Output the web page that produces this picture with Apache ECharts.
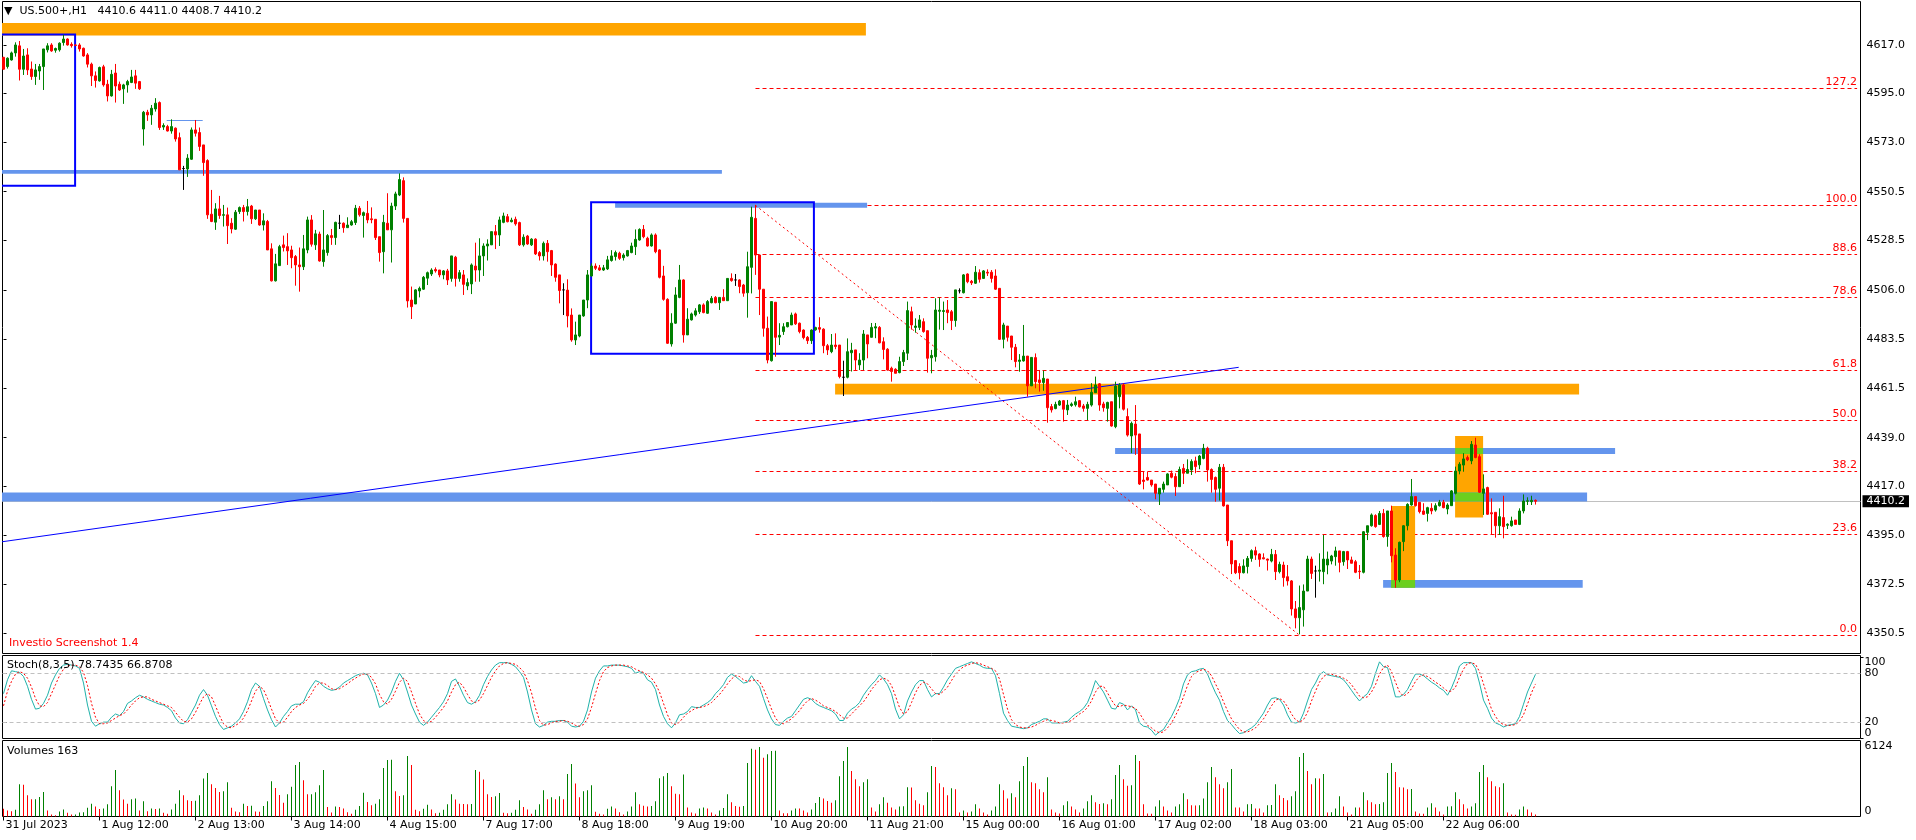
<!DOCTYPE html>
<html>
<head>
<meta charset="utf-8">
<script src="https://cdn.jsdelivr.net/npm/echarts@6/dist/echarts.min.js"></script>
<style>html,body{margin:0;padding:0;background:#fff}#c{width:1916px;height:840px}</style>
</head>
<body>
<div id="c"></div>
<script>
// ---------------- DATA ----------------
const symbolName = 'US.500+,H1';
const opens = [
4611.4,4607.2,4610.2,4613.4,4616.6,4606.0,4612.5,4606.1,4602.7,4605.2,
4607.2,4614.8,4617.0,4614.6,4614.8,4618.1,4619.7,4617.3,4617.0,4617.0,
4615.5,4612.5,4608.3,4603.0,4600.7,4607.1,4599.2,4593.9,4604.3,4599.2,
4597.1,4598.9,4600.0,4603.0,4600.4,4578.9,4586.5,4585.3,4588.0,4590.9,
4579.8,4580.0,4578.0,4579.3,4575.0,4561.0,4560.8,4565.2,4578.5,4577.3,
4571.7,4564.6,4540.3,4536.7,4542.7,4539.8,4540.0,4536.2,4533.5,4541.5,
4543.3,4541.5,4544.0,4538.2,4542.2,4535.4,4537.0,4524.6,4510.1,4517.0,
4526.4,4525.6,4524.1,4521.1,4517.3,4516.5,4524.1,4537.7,4526.4,4531.3,
4518.8,4522.9,4530.6,4529.7,4536.2,4536.2,4534.2,4535.4,4536.5,4543.0,
4539.7,4540.7,4538.2,4538.0,4530.1,4523.3,4536.2,4533.2,4544.0,4549.0,
4555.5,4538.4,4501.4,4499.6,4505.5,4506.3,4511.3,4513.2,4515.2,4515.0,
4512.8,4514.6,4511.2,4520.8,4511.2,4512.8,4507.8,4508.7,4516.8,4515.0,
4521.4,4525.9,4526.4,4532.4,4530.9,4536.6,4539.2,4536.9,4538.0,4536.5,
4526.4,4530.4,4526.4,4529.0,4522.9,4521.4,4527.1,4523.8,4517.7,4512.8,
4506.0,4505.9,4494.6,4483.3,4485.1,4494.2,4501.4,4512.3,4516.8,4516.0,
4515.0,4515.5,4519.3,4521.1,4522.6,4520.6,4521.4,4522.9,4525.6,4528.6,
4533.4,4529.4,4525.9,4530.9,4524.1,4512.3,4501.7,4481.5,4490.9,4502.6,
4510.5,4485.6,4492.4,4494.6,4496.1,4499.2,4495.4,4500.2,4502.6,4500.2,
4502.6,4501.1,4511.2,4510.5,4510.5,4508.2,4504.7,4516.2,4538.4,4521.8,
4506.3,4488.6,4473.9,4500.4,4484.6,4487.1,4489.3,4490.1,4495.1,4490.9,
4487.8,4484.5,4483.0,4487.9,4488.9,4488.2,4480.7,4478.0,4481.0,4481.0,
4466.4,4466.4,4477.5,4478.8,4472.0,4474.2,4485.6,4484.5,4488.7,4489.0,
4482.5,4479.1,4470.5,4470.0,4468.5,4473.5,4477.3,4496.1,4489.0,4489.0,
4491.6,4487.5,4475.2,4475.7,4496.3,4496.2,4496.9,4496.1,4492.1,4505.6,
4504.7,4513.2,4509.9,4509.0,4513.8,4511.2,4514.0,4514.0,4512.3,4506.7,
4483.6,4489.6,4485.1,4480.0,4473.6,4473.8,4476.0,4462.5,4475.3,4465.2,
4464.0,4465.6,4453.1,4452.2,4453.8,4455.8,4451.6,4453.6,4453.9,4455.8,
4453.4,4452.3,4453.8,4459.4,4463.4,4454.3,4452.3,4455.3,4444.0,4457.6,
4462.9,4448.6,4439.8,4445.2,4440.7,4419.8,4421.0,4419.8,4418.0,4413.5,
4415.6,4417.6,4422.9,4421.4,4416.8,4425.1,4422.9,4424.4,4428.5,4426.7,
4429.6,4434.2,4424.6,4421.0,4416.1,4425.6,4408.5,4392.3,4383.3,4380.6,
4377.8,4380.6,4384.3,4387.8,4386.3,4384.6,4384.0,4383.1,4386.1,4378.3,
4381.3,4376.0,4374.1,4361.4,4357.4,4361.0,4369.5,4384.0,4378.6,4378.5,
4378.3,4381.3,4383.1,4385.1,4387.7,4382.8,4387.4,4383.6,4382.8,4378.5,
4378.0,4396.1,4399.1,4403.7,4399.7,4404.7,4394.2,4405.8,4385.8,4374.5,
4391.9,4399.1,4408.5,4412.3,4409.7,4405.8,4404.7,4407.0,4406.2,4408.2,
4409.7,4406.7,4408.2,4413.8,4423.9,4426.6,4430.0,4428.5,4435.7,4430.4,
4413.8,4416.4,4405.0,4405.2,4399.1,4402.8,4399.3,4399.1,4401.7,4399.7,
4405.8,4410.2,4410.0,4410.6
];
const highs = [
4611.6,4611.4,4614.0,4618.2,4618.8,4615.2,4615.5,4609.5,4608.4,4608.4,
4615.2,4617.8,4617.8,4615.8,4618.2,4621.6,4620.0,4618.2,4617.3,4617.8,
4615.8,4613.3,4609.0,4605.0,4607.2,4608.0,4601.2,4605.7,4608.4,4600.4,
4599.4,4601.2,4605.7,4605.7,4600.7,4587.1,4587.6,4589.8,4592.9,4591.4,
4581.5,4580.8,4583.3,4579.6,4577.3,4562.2,4567.5,4579.6,4583.0,4579.6,
4571.7,4565.2,4551.3,4545.3,4548.6,4544.5,4543.3,4538.5,4542.2,4543.8,
4544.5,4547.2,4544.5,4542.2,4542.2,4540.7,4537.7,4527.1,4522.3,4526.4,
4530.6,4531.7,4526.0,4521.8,4525.2,4530.9,4539.2,4539.9,4533.2,4532.4,
4542.2,4531.3,4533.6,4536.9,4540.0,4536.6,4538.9,4537.7,4544.5,4544.0,
4541.5,4546.3,4543.4,4538.0,4530.1,4540.0,4549.8,4545.5,4550.5,4558.8,
4557.0,4538.4,4507.5,4506.3,4507.5,4512.3,4514.3,4515.8,4516.2,4515.0,
4515.0,4515.5,4521.4,4521.4,4515.0,4515.0,4511.2,4518.0,4527.4,4529.4,
4527.1,4528.9,4532.4,4535.4,4539.2,4541.0,4540.4,4538.7,4539.2,4536.9,
4531.2,4530.9,4529.4,4529.4,4523.6,4527.9,4528.6,4524.1,4518.0,4512.8,
4509.0,4510.8,4497.6,4491.6,4494.6,4501.4,4515.0,4518.0,4518.0,4517.3,
4517.3,4521.4,4524.0,4523.8,4523.3,4522.6,4524.1,4527.4,4533.4,4533.9,
4535.4,4530.1,4531.6,4531.6,4524.4,4516.9,4502.2,4495.4,4507.2,4517.3,
4510.8,4497.7,4495.7,4497.7,4499.6,4499.9,4501.4,4503.2,4503.2,4502.6,
4506.3,4511.2,4513.5,4513.2,4510.8,4508.7,4523.3,4543.7,4544.5,4521.8,
4506.3,4493.9,4500.7,4500.4,4490.9,4490.9,4491.2,4495.7,4495.7,4491.2,
4488.1,4485.1,4488.1,4489.3,4493.6,4488.6,4481.5,4486.0,4486.3,4481.0,
4473.9,4484.0,4482.0,4478.8,4477.3,4487.8,4485.6,4491.0,4491.0,4489.6,
4484.5,4479.6,4471.2,4470.5,4475.7,4478.8,4500.7,4498.4,4493.1,4494.6,
4493.1,4487.5,4478.8,4502.2,4502.6,4500.7,4501.4,4496.9,4506.0,4506.7,
4513.2,4513.5,4510.5,4516.8,4515.3,4515.0,4515.3,4515.0,4515.3,4506.7,
4491.1,4489.6,4485.1,4481.5,4476.9,4490.1,4476.0,4475.4,4477.2,4469.7,
4469.4,4465.6,4454.3,4455.3,4456.1,4456.1,4456.1,4455.0,4457.6,4456.1,
4454.3,4455.3,4463.7,4466.7,4463.7,4455.3,4455.3,4455.3,4464.4,4463.7,
4463.7,4452.3,4446.3,4453.8,4440.7,4423.6,4423.6,4419.8,4418.0,4416.1,
4419.1,4422.9,4424.1,4422.9,4425.9,4427.1,4429.2,4429.2,4430.4,4431.2,
4436.2,4434.9,4425.1,4421.4,4427.1,4427.1,4408.5,4392.3,4383.6,4382.1,
4383.9,4385.4,4388.4,4389.6,4386.6,4386.6,4384.2,4388.6,4388.1,4382.8,
4382.8,4381.3,4374.5,4365.0,4372.0,4372.5,4385.5,4385.1,4381.0,4386.6,
4394.9,4387.4,4385.9,4389.6,4387.7,4387.7,4387.7,4385.1,4383.6,4381.3,
4396.7,4399.1,4404.7,4404.3,4405.8,4406.7,4405.8,4408.2,4388.9,4391.9,
4399.4,4409.3,4420.3,4412.3,4409.7,4409.3,4407.7,4409.3,4409.3,4410.8,
4410.8,4409.3,4415.3,4425.9,4427.9,4432.0,4430.9,4437.5,4439.0,4431.5,
4422.4,4416.8,4411.5,4405.2,4407.0,4412.7,4400.2,4403.2,4401.7,4407.0,
4413.3,4412.0,4412.7,4411.0
];
const lows = [
4605.8,4606.3,4609.9,4611.7,4600.9,4603.4,4603.4,4601.2,4598.9,4601.2,
4596.6,4613.6,4613.9,4613.5,4614.0,4616.7,4616.7,4615.8,4616.6,4614.0,
4611.7,4606.8,4598.4,4597.7,4600.4,4598.1,4591.4,4593.6,4590.9,4596.2,
4590.3,4595.4,4599.7,4597.1,4596.6,4571.4,4582.6,4580.8,4586.8,4578.5,
4578.5,4577.8,4576.8,4573.2,4560.4,4551.3,4557.2,4564.9,4575.5,4569.0,
4557.7,4538.2,4536.7,4533.2,4538.2,4534.7,4526.8,4531.6,4533.2,4540.4,
4537.0,4539.7,4535.9,4537.7,4535.1,4532.9,4524.1,4509.8,4509.8,4517.0,
4523.4,4517.3,4515.8,4507.9,4505.2,4515.0,4522.6,4525.6,4524.1,4518.8,
4516.5,4521.5,4526.4,4526.4,4533.6,4531.9,4534.2,4535.1,4535.4,4539.2,
4529.7,4536.2,4536.2,4528.6,4518.8,4513.5,4533.2,4518.4,4542.2,4548.5,
4536.5,4498.0,4492.8,4499.6,4502.6,4506.0,4508.2,4512.3,4513.8,4511.7,
4510.8,4508.2,4509.7,4507.5,4509.7,4503.7,4505.9,4504.1,4509.7,4509.7,
4512.3,4519.3,4526.4,4524.5,4525.9,4536.2,4536.6,4536.6,4535.1,4525.9,
4525.6,4526.4,4525.9,4521.8,4519.3,4519.3,4518.8,4512.3,4509.7,4499.9,
4494.6,4489.0,4482.5,4481.0,4484.5,4493.8,4497.7,4512.0,4515.0,4514.6,
4514.6,4515.0,4518.8,4519.3,4519.6,4519.3,4521.1,4522.6,4521.8,4528.3,
4529.4,4525.6,4525.6,4522.6,4511.2,4501.1,4481.5,4480.3,4490.6,4502.2,
4482.1,4485.6,4492.1,4493.9,4495.1,4495.4,4495.1,4499.9,4499.9,4496.9,
4501.1,4501.1,4509.7,4507.8,4504.5,4502.9,4493.4,4504.4,4512.8,4494.6,
4484.8,4472.7,4473.5,4475.7,4481.0,4485.6,4489.0,4490.1,4490.1,4486.3,
4483.6,4481.5,4481.5,4487.5,4486.6,4477.3,4476.5,4477.3,4479.1,4465.9,
4457.9,4465.9,4469.0,4469.7,4469.7,4469.7,4475.0,4484.5,4484.1,4481.8,
4474.5,4469.4,4464.4,4468.2,4468.2,4471.5,4474.2,4488.0,4486.6,4487.8,
4486.6,4468.5,4468.2,4473.5,4488.0,4487.8,4490.9,4487.8,4489.3,4504.4,
4504.4,4509.0,4508.2,4508.7,4509.3,4511.2,4512.3,4509.3,4506.0,4483.3,
4479.5,4482.6,4474.2,4470.9,4468.9,4473.5,4457.6,4462.5,4461.4,4459.9,
4460.3,4445.8,4450.4,4451.9,4453.4,4446.3,4449.3,4453.0,4453.1,4452.7,
4450.8,4447.0,4453.1,4459.4,4451.2,4450.8,4446.3,4444.0,4443.3,4452.3,
4451.3,4439.5,4432.0,4431.2,4417.6,4415.6,4419.6,4416.8,4411.1,4408.5,
4414.1,4417.6,4420.6,4412.6,4416.8,4418.0,4422.9,4422.1,4422.9,4424.7,
4429.2,4419.1,4414.1,4410.0,4410.5,4407.8,4389.9,4377.2,4377.2,4374.8,
4377.5,4377.5,4382.8,4383.6,4380.5,4383.9,4378.8,4382.5,4374.5,4377.5,
4371.5,4372.0,4358.4,4352.6,4349.9,4353.4,4369.5,4375.0,4366.5,4373.8,
4372.6,4377.1,4381.6,4381.0,4378.0,4381.0,4379.5,4382.1,4377.6,4375.0,
4377.5,4392.6,4398.7,4398.2,4399.4,4393.7,4389.6,4382.5,4371.0,4373.5,
4387.6,4397.0,4408.2,4407.8,4404.7,4404.0,4401.0,4404.3,4405.5,4407.8,
4407.0,4404.3,4408.2,4413.3,4422.4,4423.6,4428.4,4427.0,4429.7,4414.0,
4404.0,4404.0,4394.9,4393.7,4394.9,4393.4,4397.6,4398.7,4399.7,4399.4,
4404.7,4408.5,4408.5,4408.7
];
const closes = [
4606.0,4611.0,4613.4,4617.0,4606.0,4612.0,4605.7,4602.7,4605.7,4607.2,
4615.2,4616.6,4614.3,4615.4,4617.8,4619.7,4617.0,4616.7,4616.8,4615.2,
4612.0,4608.3,4603.0,4600.9,4606.8,4598.9,4593.9,4603.7,4598.4,4596.6,
4598.9,4600.4,4602.5,4599.7,4597.1,4586.5,4585.3,4588.3,4590.6,4579.6,
4580.5,4578.0,4580.0,4574.4,4560.4,4561.0,4565.7,4578.5,4577.0,4571.0,
4563.7,4540.0,4537.0,4542.7,4539.7,4540.1,4535.1,4533.6,4541.2,4543.3,
4541.5,4543.7,4538.2,4542.2,4535.4,4537.3,4524.1,4510.1,4517.8,4525.6,
4525.2,4523.7,4520.6,4517.3,4516.5,4524.6,4537.7,4526.7,4531.4,4519.1,
4524.1,4530.6,4529.7,4536.6,4536.2,4534.2,4535.4,4536.9,4543.0,4540.0,
4541.0,4537.7,4537.8,4529.7,4522.9,4536.6,4533.2,4544.0,4549.5,4556.0,
4538.4,4501.0,4498.4,4506.0,4506.7,4511.7,4513.8,4515.0,4514.6,4512.8,
4514.6,4510.5,4521.4,4511.2,4513.8,4508.5,4509.3,4517.3,4515.0,4521.4,
4525.9,4526.8,4532.4,4530.9,4537.7,4539.5,4536.9,4537.6,4535.9,4526.4,
4529.9,4526.8,4529.0,4522.3,4521.4,4527.1,4523.3,4517.3,4511.7,4505.7,
4506.0,4494.2,4483.3,4485.6,4494.6,4501.4,4512.8,4516.8,4515.8,4515.0,
4516.0,4519.6,4521.4,4522.9,4520.3,4521.8,4523.8,4525.9,4528.9,4533.4,
4530.1,4525.9,4530.9,4523.3,4511.7,4501.7,4481.8,4490.9,4503.7,4510.5,
4485.6,4492.7,4495.1,4496.5,4499.2,4495.7,4500.7,4502.2,4500.2,4502.6,
4501.1,4511.2,4510.2,4510.5,4507.5,4504.5,4516.5,4538.9,4521.8,4506.3,
4488.6,4474.2,4500.7,4484.5,4485.4,4489.3,4491.2,4494.6,4490.6,4487.1,
4484.4,4483.0,4487.8,4488.9,4488.2,4480.7,4478.8,4481.0,4480.3,4466.7,
4466.4,4478.0,4478.6,4474.2,4474.2,4486.0,4481.5,4489.0,4489.3,4482.0,
4479.0,4469.7,4469.0,4468.2,4473.5,4477.6,4496.6,4490.1,4489.6,4492.4,
4487.1,4475.0,4476.3,4496.9,4496.8,4496.6,4495.7,4492.1,4506.0,4505.6,
4512.8,4509.7,4509.2,4514.0,4510.8,4514.6,4513.6,4511.2,4506.3,4483.6,
4490.1,4484.5,4480.0,4473.5,4474.2,4476.0,4462.5,4475.4,4464.4,4464.0,
4465.9,4452.6,4451.6,4454.1,4455.6,4451.9,4453.8,4454.3,4455.3,4453.0,
4452.3,4454.1,4459.6,4462.9,4453.8,4452.6,4455.0,4444.3,4462.4,4462.9,
4451.9,4440.2,4445.5,4440.2,4418.0,4419.2,4419.8,4417.6,4413.8,4416.1,
4418.0,4422.6,4421.1,4416.8,4424.6,4422.9,4424.6,4428.2,4425.9,4430.7,
4434.2,4424.4,4420.1,4415.6,4425.6,4408.1,4392.3,4381.8,4377.8,4377.8,
4380.9,4384.3,4387.8,4385.8,4383.9,4384.1,4383.5,4386.1,4378.3,4381.6,
4375.6,4374.1,4361.4,4357.4,4362.0,4369.5,4384.0,4377.5,4378.6,4379.0,
4384.0,4384.0,4385.4,4387.7,4382.5,4387.4,4383.6,4382.1,4378.0,4378.3,
4396.4,4399.1,4404.0,4398.7,4404.7,4394.2,4405.8,4385.5,4374.5,4391.6,
4399.1,4408.8,4412.3,4408.2,4405.5,4404.3,4407.3,4405.8,4408.2,4409.7,
4407.3,4408.5,4414.9,4423.9,4427.0,4429.4,4429.0,4436.0,4430.0,4414.3,
4415.8,4404.3,4404.5,4399.1,4403.2,4398.7,4399.8,4401.3,4399.7,4405.8,
4410.3,4410.4,4410.6,4410.2
];
const stochK = [
55,72,83,82,81,76,64,48,36,37, 43,53,68,78,86,90,91,90,89,86,
68,41,21,15,18,20,20,26,30,28, 33,43,46,50,53,51,48,46,44,42,
41,38,34,25,19,18,23,32,41,53, 60,53,40,27,17,11,13,15,19,24,
33,45,60,68,64,49,35,23,14,19, 27,33,40,42,42,45,56,64,71,69,
64,61,59,60,63,68,71,74,77,79, 80,78,68,55,38,41,47,57,70,80,
72,57,41,30,20,16,20,26,32,38, 45,55,70,73,64,53,44,42,45,53,
66,76,84,90,93,93,93,91,88,82, 75,57,35,18,14,16,20,21,21,22,
22,20,15,14,15,21,35,57,74,83, 89,89,90,90,90,89,88,86,80,82,
80,72,69,60,41,27,18,13,19,29, 30,33,39,38,38,41,44,48,55,60,
66,75,79,76,72,68,69,77,70,64, 49,35,24,17,16,21,25,27,34,41,
48,50,48,43,40,38,36,34,30,22, 22,31,36,39,44,53,60,66,71,78,
73,66,55,36,24,29,46,57,66,71, 71,60,51,55,55,63,72,79,86,88,
90,92,94,92,90,87,86,86,77,55, 31,22,15,14,13,12,13,17,19,21,
24,24,19,19,19,20,21,26,30,33, 37,44,56,71,64,57,47,37,36,44,
42,35,40,35,19,15,14,10,4,8, 11,19,27,37,49,67,78,82,83,85,
86,79,67,56,47,33,22,17,11,6, 7,10,13,17,24,31,41,49,50,48,
41,29,20,19,20,31,46,60,68,78, 82,78,77,76,75,72,66,59,52,46,
51,55,64,80,94,88,87,70,51,51, 54,60,70,79,79,77,73,69,66,62,
59,53,62,74,89,93,93,93,86,68, 47,37,25,19,17,14,16,17,18,27,
42,57,68,78.7435
];
const stochD = [
40,58,70,79,82,80,74,63,49,40, 39,44,55,66,77,85,89,90,90,88,
81,65,43,26,18,18,19,22,25,28, 30,35,41,46,50,51,51,48,46,44,
42,40,38,32,26,21,20,24,32,42, 51,55,51,40,28,18,14,13,16,19,
25,34,46,58,64,60,49,36,24,19, 20,26,33,38,41,43,48,55,64,68,
68,65,61,60,61,64,67,71,74,77, 79,79,75,67,54,45,42,48,58,69,
74,70,57,43,30,22,19,21,26,32, 38,46,57,66,69,63,54,46,44,47,
55,65,75,83,89,92,93,92,91,87, 82,71,56,37,22,16,17,19,21,21,
22,21,19,16,15,17,24,38,55,71, 82,87,89,90,90,90,89,88,85,83,
81,78,74,67,57,43,29,19,17,20, 26,31,34,37,38,39,41,44,49,54,
60,67,73,77,76,72,70,71,72,70, 61,49,36,25,19,18,21,24,29,34,
41,46,49,47,44,40,38,36,33,29, 25,25,30,35,40,45,52,60,66,72,
74,72,65,52,38,30,33,44,56,65, 69,67,61,55,54,58,63,71,79,84,
88,90,92,93,92,90,88,86,83,73, 54,36,23,17,14,13,13,14,16,19,
21,23,22,21,19,19,20,22,26,30, 33,38,46,57,64,64,56,47,40,39,
41,40,39,37,31,23,16,13,9,7, 8,13,19,28,38,51,65,76,81,83,
85,83,77,67,57,45,34,24,17,11, 8,8,10,13,18,24,32,40,47,49,
46,39,30,23,20,23,32,46,58,69, 76,79,79,77,76,74,71,66,59,52,
50,51,57,66,79,87,90,82,69,57, 52,55,61,70,76,78,76,73,69,66,
62,58,58,63,75,85,92,93,91,82, 67,51,36,27,20,17,16,16,17,21,
29,42,56,66.8708
];
const volumes = [
620,490,430,540,2600,2550,1710,1380,1400,1570, 1980,490,160,110,410,570,300,160,170,330,
350,700,1030,810,600,650,980,2440,3740,2110, 1360,1030,1380,1460,490,1220,430,650,600,650,
300,220,570,1030,2110,1710,1300,1250,1270,1710, 3060,3500,2600,2300,1980,2030,2760,700,410,350,
1030,840,860,400,380,840,1220,2850,2300,1730, 1110,1790,2390,4150,4390,2930,1790,1800,1950,2520,
3740,760,330,810,760,650,350,220,540,840, 1920,1170,900,1030,1380,3900,4550,4580,2030,1650,
1710,4880,4150,540,430,620,950,570,270,300, 540,980,1790,1360,1030,1000,980,1000,3740,3600,
2980,1790,1570,1630,1900,300,270,300,540,1300, 760,570,220,540,980,2110,1380,1550,1380,1630,
1380,3420,4230,2660,1550,2030,2110,2520,380,220, 160,620,810,650,350,160,410,810,1950,980,
870,810,840,1220,3090,3250,3500,2440,1840,1790, 3390,730,330,240,650,730,650,330,160,490,
680,1790,1140,840,790,840,4310,5450,5370,5610, 4740,5010,5280,5300,490,270,260,490,650,640,
490,330,570,1080,1570,1460,1250,1110,1300,3250, 4470,5610,3660,3010,2440,2760,3010,730,410,980,
1550,1110,730,570,810,830,2360,2340,1300,1030, 900,1950,4070,3980,2680,2360,1710,2280,2200,330,
490,330,410,980,650,330,160,490,810,2600, 2110,1460,1870,1550,2850,4070,4800,2760,2680,2200,
1950,3170,570,330,240,900,1220,810,570,330, 650,1220,1710,1140,1000,1060,980,1380,3340,4150,
3010,2470,2520,4960,4470,980,240,230,810,1300, 810,490,330,810,980,1870,1380,900,890,900,
1460,2760,3980,3170,2600,2280,2760,3820,730,720, 410,980,1000,650,640,330,900,920,2600,1710,
1490,1300,1630,2030,4800,5120,3660,2600,3090,3060, 3420,330,340,650,1630,810,330,160,730,720,
1950,1300,1140,980,1000,1140,3500,4310,3580,2360, 2340,2200,2220,410,240,230,730,1060,730,410,
160,810,830,1950,1380,980,650,810,1060,3580, 4150,3170,2850,2440,2360,2680,330,160,150,570,
810,570,330,163
];
// time-axis labels (bar index -> text)
const timeTickIdx = [0,24,48,72,96,120,144,168,192,216,240,264,288,312,336,360];
const timeTickText = ['31 Jul 2023','1 Aug 12:00','2 Aug 13:00','3 Aug 14:00','4 Aug 15:00','7 Aug 17:00',
  '8 Aug 18:00','9 Aug 19:00','10 Aug 20:00','11 Aug 21:00','15 Aug 00:00','16 Aug 01:00',
  '17 Aug 02:00','18 Aug 03:00','21 Aug 05:00','22 Aug 06:00'];
const priceTicks = [4350.5,4372.5,4395.0,4417.0,4439.0,4461.5,4483.5,4506.0,4528.5,4550.5,4573.0,4595.0,4617.0];
const stochLevels = [80,20];
const stochBounds = [0,100];
const volumeTicks = [0,6124];
// Fibonacci retracement (anchor bar indices / prices) and ratios
const fibRatios = [0,23.6,38.2,50,61.8,78.6,88.6,100,127.2];
const fibStart = [188, 4544.3];
const fibEnd = [324, 4349.5];
const fibRightIdx = 463.4;
// drawn objects: [barFrom, barTo, priceTop, priceBottom]
const orangeRects = [[-2,215.6,4626.9,4621.3],[207.9,393.9,4463.5,4458.6],[346.9,352.9,4408.1,4371.0],[362.9,369.9,4439.8,4402.8]];
const blueBands = [[-2,179.6,4560.3,4558.6],[152.9,215.9,4545.5,4543.2],[277.9,402.9,4434.3,4431.6],[-2,395.9,4414.2,4410.1],[344.9,394.8,4374.5,4371.0]];
const blueFrames = [[-2,17.9,4621.8,4553.2],[146.9,202.6,4545.7,4477.1]];
const thinLevel = [40.8,49.8,4582.9];
const trendLine = [[-0.9,4391.7],[308.8,4470.9]];

// ---------------- CHART ----------------
const GREEN = '#008000', RED = '#FF0000', CFB = '#6495ED', ORANGE = '#FFA500', LIME = '#6BCF1F';
const FONT = 'DejaVu Sans';
const N = opens.length;
const X_MIN = -0.25, X_MAX = 464.25;
const last = N - 1;
const headerText = '\u25BC  ' + symbolName + '   ' + [opens[last], highs[last], lows[last], closes[last]].map(v => v.toFixed(1)).join(' ');
const stochText = 'Stoch(8,3,5) ' + stochK[last].toFixed(4) + ' ' + stochD[last].toFixed(4);
const volText = 'Volumes ' + volumes[last];

const candleData = opens.map((o, i) => {
  const item = { value: [i, o, closes[i], lows[i], highs[i]] };
  if (o === closes[i]) item.itemStyle = { color: '#000', color0: '#000', borderColor: '#000', borderColor0: '#000' };
  return item;
});

function rectShape(api, r) {
  const p1 = api.coord([r[0], r[2]]), p2 = api.coord([r[1], r[3]]);
  return { x: Math.min(p1[0], p2[0]), y: Math.min(p1[1], p2[1]), width: Math.abs(p2[0] - p1[0]), height: Math.abs(p2[1] - p1[1]) };
}

function renderObjects(params, api) {
  const children = [];
  orangeRects.forEach(r => children.push({ type: 'rect', shape: rectShape(api, r), style: { fill: ORANGE } }));
  blueBands.forEach(r => children.push({ type: 'rect', shape: rectShape(api, r), style: { fill: CFB } }));
  orangeRects.forEach(o => blueBands.forEach(b => {
    const x1 = Math.max(o[0], b[0]), x2 = Math.min(o[1], b[1]);
    const top = Math.min(o[2], b[2]), bot = Math.max(o[3], b[3]);
    if (x1 < x2 && top > bot) children.push({ type: 'rect', shape: rectShape(api, [x1, x2, top, bot]), style: { fill: LIME } });
  }));
  blueFrames.forEach(r => children.push({ type: 'rect', shape: rectShape(api, r), style: { fill: null, stroke: '#0000FF', lineWidth: 2 } }));
  const a = api.coord([thinLevel[0], thinLevel[2]]), b = api.coord([thinLevel[1], thinLevel[2]]);
  children.push({ type: 'line', shape: { x1: a[0], y1: Math.round(a[1]) + 0.5, x2: b[0], y2: Math.round(b[1]) + 0.5 }, style: { stroke: CFB, lineWidth: 1 } });
  return { type: 'group', children };
}

function renderFib(params, api) {
  const price = api.value(1), ratio = api.value(2);
  const a = api.coord([fibStart[0], price]), b = api.coord([fibRightIdx, price]);
  const y = Math.round(a[1]) + 0.5;
  return { type: 'group', children: [
    { type: 'line', shape: { x1: a[0], y1: y, x2: b[0], y2: y }, style: { stroke: RED, lineWidth: 1, lineDash: [4, 3] } },
    { type: 'text', style: { text: ratio.toFixed(1), x: b[0], y: y - 0.5, align: 'right', verticalAlign: 'bottom', fill: RED, fontSize: 11, fontFamily: FONT } }
  ] };
}

const fibData = fibRatios.map(r => [fibStart[0], fibEnd[1] + (fibStart[1] - fibEnd[1]) * r / 100, r]);

const axisFont = { fontSize: 11, fontFamily: FONT, color: '#000' };
const hiddenX = gi => ({ type: 'value', gridIndex: gi, min: X_MIN, max: X_MAX, show: false, splitLine: { show: false } });
const STOCH_MIN = -0.1, STOCH_MAX = 101.8;

const chart = echarts.init(document.getElementById('c'));
chart.setOption({
  animation: false,
  backgroundColor: '#fff',
  title: [
    { text: headerText, left: 4, top: 6, padding: 0, textStyle: { fontSize: 11, fontFamily: FONT, fontWeight: 'normal', color: '#000' } },
    { text: 'Investio Screenshot 1.4', left: 9, top: 637.5, padding: 0, textStyle: { fontSize: 11, fontFamily: FONT, fontWeight: 'normal', color: RED } },
    { text: stochText, left: 7, top: 659.5, padding: 0, textStyle: { fontSize: 11, fontFamily: FONT, fontWeight: 'normal', color: '#000' } },
    { text: volText, left: 7, top: 746, padding: 0, textStyle: { fontSize: 11, fontFamily: FONT, fontWeight: 'normal', color: '#000' } }
  ],
  grid: [
    { left: 2.5, right: 55.5, top: 1.5, bottom: 186.5, show: true, borderColor: '#000', borderWidth: 1, backgroundColor: 'transparent' },
    { left: 2.5, right: 55.5, top: 655.5, bottom: 101.5, show: true, borderColor: '#000', borderWidth: 1, backgroundColor: 'transparent' },
    { left: 2.5, right: 55.5, top: 740.5, bottom: 23.5, show: true, borderColor: '#000', borderWidth: 1, backgroundColor: 'transparent' }
  ],
  xAxis: [
    hiddenX(0), hiddenX(1),
    { type: 'value', gridIndex: 2, min: X_MIN, max: X_MAX, position: 'bottom',
      axisLine: { show: false }, splitLine: { show: false },
      axisTick: { show: true, customValues: timeTickIdx, length: 4, lineStyle: { color: '#000' } },
      axisLabel: Object.assign({ customValues: timeTickIdx, formatter: v => timeTickText[timeTickIdx.indexOf(v)], align: 'left', margin: 3, padding: [0, 0, 0, 2], showMinLabel: true, showMaxLabel: true }, axisFont) }
  ],
  yAxis: [
    { type: 'value', gridIndex: 0, position: 'right', min: 4341.2, max: 4636.7,
      axisLine: { show: false }, splitLine: { show: false },
      axisTick: { show: true, customValues: priceTicks, length: 3, lineStyle: { color: '#000' } },
      axisLabel: Object.assign({ customValues: priceTicks, formatter: v => v.toFixed(1), margin: 6, showMinLabel: true, showMaxLabel: true }, axisFont) },
    { type: 'value', gridIndex: 1, position: 'right', min: STOCH_MIN, max: STOCH_MAX,
      axisLine: { show: false }, splitLine: { show: false },
      axisTick: { show: true, customValues: stochLevels, length: 3, lineStyle: { color: '#000' } },
      axisLabel: Object.assign({ customValues: stochLevels, formatter: v => String(v), margin: 4, showMinLabel: true, showMaxLabel: true }, axisFont) },
    { type: 'value', gridIndex: 2, position: 'right', min: 0, max: 6124,
      axisLine: { show: false }, splitLine: { show: false },
      axisTick: { show: true, customValues: volumeTicks, length: 3, lineStyle: { color: '#000' } },
      axisLabel: Object.assign({ customValues: volumeTicks, formatter: v => String(v), margin: 4, showMinLabel: true, showMaxLabel: true, verticalAlignMinLabel: 'bottom', verticalAlignMaxLabel: 'top' }, axisFont) },
    { type: 'value', gridIndex: 1, position: 'right', offset: 0, min: STOCH_MIN, max: STOCH_MAX,
      axisLine: { show: false }, splitLine: { show: false },
      axisTick: { show: true, customValues: stochBounds, length: 3, lineStyle: { color: '#000' } },
      axisLabel: Object.assign({ customValues: stochBounds, formatter: v => String(v), margin: 4, showMinLabel: true, showMaxLabel: true, verticalAlignMinLabel: 'bottom', verticalAlignMaxLabel: 'top' }, axisFont) }
  ],
  series: [
    { name: 'fib', type: 'custom', xAxisIndex: 0, yAxisIndex: 0, z: 1, silent: true, clip: true,
      data: fibData, renderItem: renderFib },
    { name: 'objects', type: 'custom', xAxisIndex: 0, yAxisIndex: 0, z: 2, silent: true, clip: true,
      data: [[0, closes[last]]], renderItem: renderObjects },
    { name: 'fibTrend', type: 'line', xAxisIndex: 0, yAxisIndex: 0, z: 3, silent: true, symbol: 'none',
      data: [fibStart, fibEnd], lineStyle: { color: RED, width: 1, type: [2, 3] } },
    { name: 'trend', type: 'line', xAxisIndex: 0, yAxisIndex: 0, z: 3, silent: true, symbol: 'none', clip: true,
      data: trendLine, lineStyle: { color: '#0000FF', width: 1 } },
    { name: 'price', type: 'candlestick', xAxisIndex: 0, yAxisIndex: 0, z: 5, barWidth: 2,
      encode: { x: 0, y: [1, 2, 3, 4] },
      data: candleData,
      itemStyle: { color: GREEN, color0: RED, borderColor: GREEN, borderColor0: RED, borderWidth: 1 },
      markLine: { silent: true, symbol: ['none', 'none'], z: 1,
        data: [{ yAxis: closes[last] }],
        lineStyle: { color: '#C0C0C0', type: 'solid', width: 1 },
        label: { position: 'end', distance: 2, formatter: closes[last].toFixed(1), backgroundColor: '#000', color: '#fff', padding: [1, 4, 0, 4], fontSize: 11, fontFamily: FONT } } },
    { name: 'K', type: 'line', xAxisIndex: 1, yAxisIndex: 1, symbol: 'none', silent: true,
      data: stochK.map((v, i) => [i, v]), lineStyle: { color: '#20B2AA', width: 1 },
      markLine: { silent: true, symbol: ['none', 'none'], data: stochLevels.map(v => ({ yAxis: v })),
        lineStyle: { color: '#C0C0C0', type: [4, 3], width: 1 }, label: { show: false } } },
    { name: 'D', type: 'line', xAxisIndex: 1, yAxisIndex: 1, symbol: 'none', silent: true,
      data: stochD.map((v, i) => [i, v]), lineStyle: { color: RED, width: 1, type: [2, 2] } },
    { name: 'Volumes', type: 'bar', xAxisIndex: 2, yAxisIndex: 2, barWidth: 1, silent: true,
      data: volumes.map((v, i) => [i, v]),
      itemStyle: { color: p => (p.dataIndex > 0 && volumes[p.dataIndex] > volumes[p.dataIndex - 1]) ? GREEN : RED } }
  ]
});
</script>
</body>
</html>
